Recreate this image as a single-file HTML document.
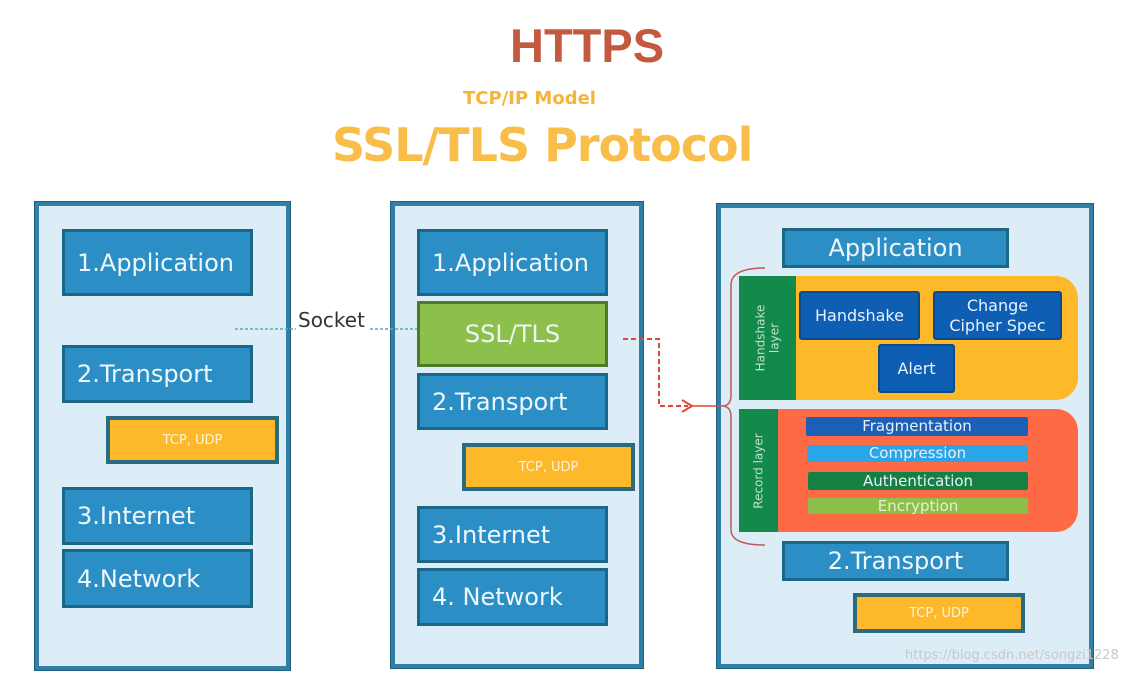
<!DOCTYPE html>
<html><head><meta charset="utf-8"><style>
body{margin:0;width:1143px;height:675px;background:#fff;position:relative;overflow:hidden;font-family:"DejaVu Sans","Liberation Sans",sans-serif}
div{position:absolute;box-sizing:border-box}
.panel{background:#dcedf8;border:4px solid #2f7fa6;box-shadow:0 0 0 1px #1e5f80}
.b{background:#2b8fc5;border:3px solid #1b6788;color:#eef7fc;font-size:24px;display:flex;align-items:center;padding-left:12px}
.c{justify-content:center;padding-left:0}
.y{background:#fdb92a;border:4px solid #2a6c7e;color:#fff3d6;font-size:13px;display:flex;align-items:center;justify-content:center}
.d{background:#0e5fb4;border:2px solid #0b4b8c;color:#eaf2fb;font-size:16px;display:flex;align-items:center;justify-content:center;text-align:center;line-height:20px;border-radius:3px}
.bar{color:#e8f0f8;font-size:15px;display:flex;align-items:center;justify-content:center;border-radius:2px;line-height:1}
.t{white-space:nowrap;font-weight:bold}
</style></head><body>
<div class="t" style="left:510px;top:18px;font-size:47px;color:#c35a3f;font-family:'Liberation Sans',sans-serif">HTTPS</div>
<div class="t" style="left:463px;top:88px;font-size:18px;color:#f6b43a">TCP/IP Model</div>
<div class="t" style="left:332px;top:118px;font-size:46px;color:#f9bd4a;letter-spacing:-1px">SSL/TLS Protocol</div>

<div class="panel" style="left:35px;top:202px;width:255px;height:468px"></div>
<div class="b" style="left:62px;top:229px;width:191px;height:67px">1.Application</div>
<div class="b" style="left:62px;top:345px;width:191px;height:58px">2.Transport</div>
<div class="y" style="left:106px;top:416px;width:173px;height:48px">TCP, UDP</div>
<div class="b" style="left:62px;top:487px;width:191px;height:58px">3.Internet</div>
<div class="b" style="left:62px;top:549px;width:191px;height:59px">4.Network</div>

<div class="panel" style="left:391px;top:202px;width:252px;height:466px"></div>
<div class="b" style="left:417px;top:229px;width:191px;height:67px">1.Application</div>
<div class="b c" style="left:417px;top:301px;width:191px;height:66px;background:#8dc04b;border-color:#4e7a2c">SSL/TLS</div>
<div class="b" style="left:417px;top:373px;width:191px;height:57px">2.Transport</div>
<div class="y" style="left:462px;top:443px;width:173px;height:48px">TCP, UDP</div>
<div class="b" style="left:417px;top:506px;width:191px;height:57px">3.Internet</div>
<div class="b" style="left:417px;top:568px;width:191px;height:58px">4. Network</div>

<div style="left:298px;top:308px;font-size:20px;color:#333">Socket</div>

<div class="panel" style="left:717px;top:204px;width:376px;height:464px"></div>
<div class="b c" style="left:782px;top:228px;width:227px;height:40px">Application</div>
<div style="left:790px;top:276px;width:288px;height:124px;background:#fdb92a;border-radius:0 22px 22px 0"></div>
<div style="left:739px;top:276px;width:57px;height:124px;background:#138a4c"></div>
<div style="left:739px;top:276px;width:57px;height:124px;display:flex;align-items:center;justify-content:center"><div style="position:static;transform:rotate(-90deg);color:#bfe0c8;font-size:12px;text-align:center;line-height:14px;white-space:nowrap">Handshake<br>layer</div></div>
<div class="d" style="left:799px;top:291px;width:121px;height:49px">Handshake</div>
<div class="d" style="left:933px;top:291px;width:129px;height:49px">Change<br>Cipher Spec</div>
<div class="d" style="left:878px;top:344px;width:77px;height:49px">Alert</div>
<div style="left:770px;top:409px;width:308px;height:123px;background:#fe6a45;border-radius:0 22px 22px 0"></div>
<div style="left:739px;top:409px;width:39px;height:123px;background:#138a4c"></div>
<div style="left:739px;top:409px;width:39px;height:123px;display:flex;align-items:center;justify-content:center"><div style="position:static;transform:rotate(-90deg);color:#bfe0c8;font-size:12px;white-space:nowrap">Record layer</div></div>
<div class="bar" style="left:806px;top:417px;width:222px;height:19px;background:#1b5fb8">Fragmentation</div>
<div class="bar" style="left:807px;top:445px;width:221px;height:17px;background:#2aa6e8">Compression</div>
<div class="bar" style="left:808px;top:472px;width:220px;height:18px;background:#168044">Authentication</div>
<div class="bar" style="left:808px;top:498px;width:220px;height:16px;background:#8cc04a;color:#e4f0d0">Encryption</div>
<div class="b c" style="left:782px;top:541px;width:227px;height:40px">2.Transport</div>
<div class="y" style="left:853px;top:593px;width:172px;height:40px">TCP, UDP</div>
<div style="left:905px;top:648px;font-size:13px;color:#c8c8c8">https://blog.csdn.net/songzi1228</div>

<svg style="position:absolute;left:0;top:0" width="1143" height="675">
<line x1="235" y1="329" x2="296" y2="329" stroke="#5aa8b8" stroke-width="1.5" stroke-dasharray="3,2"/>
<line x1="370" y1="329" x2="417" y2="329" stroke="#5aa8b8" stroke-width="1.5" stroke-dasharray="3,2"/>
<path d="M623 339 H659 V406 H688" fill="none" stroke="#e0473b" stroke-width="2" stroke-dasharray="5,3"/>
<path d="M682 400 L692 406 L682 412" fill="none" stroke="#e0473b" stroke-width="2"/>
<line x1="692" y1="406" x2="722" y2="406" stroke="#e0473b" stroke-width="1.5"/>
<path d="M765 268 Q731 268 731 285 V395 Q731 406 722 406 Q731 406 731 417 V530 Q731 545 765 545" fill="none" stroke="#c05a5a" stroke-width="1.5"/>
</svg>
</body></html>
